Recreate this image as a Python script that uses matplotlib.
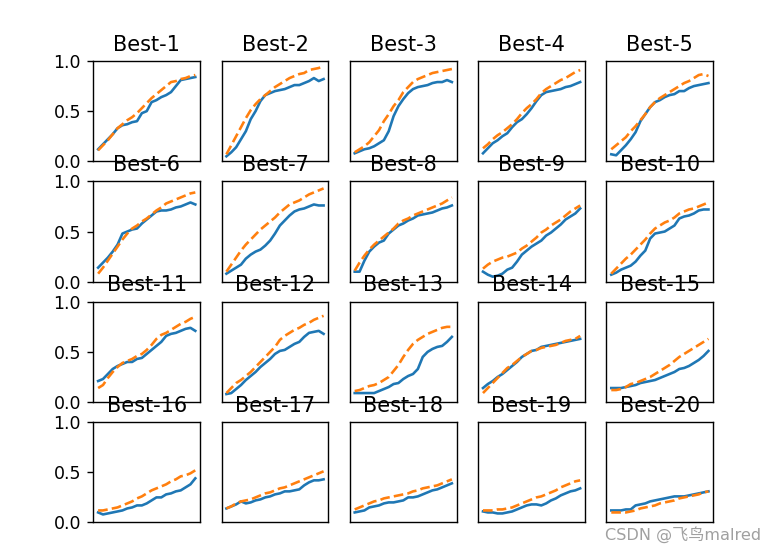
import numpy as np
import matplotlib
matplotlib.use("Agg")
import matplotlib.pyplot as plt

titles = [f"Best-{i}" for i in range(1, 21)]

blue = [
    [.12, .17, .22, .27, .33, .36, .37, .39, .40, .48, .50, .59, .61, .64, .66, .69, .75, .81, .82, .83, .84],
    [.05, .09, .14, .22, .30, .42, .50, .60, .66, .68, .70, .71, .72, .74, .76, .76, .78, .80, .83, .80, .82],
    [.08, .10, .12, .13, .15, .18, .21, .30, .45, .55, .62, .68, .72, .74, .75, .76, .78, .79, .79, .81, .79],
    [.08, .13, .18, .21, .25, .28, .34, .39, .42, .47, .53, .60, .66, .69, .70, .71, .72, .74, .75, .77, .79],
    [.07, .06, .11, .16, .22, .29, .40, .47, .54, .59, .61, .64, .66, .67, .70, .70, .73, .75, .76, .77, .78],
    [.14, .19, .24, .30, .37, .48, .50, .52, .53, .58, .62, .66, .70, .71, .71, .72, .74, .75, .77, .79, .77],
    [.08, .11, .14, .17, .23, .27, .30, .32, .36, .41, .48, .56, .61, .66, .70, .72, .73, .75, .77, .76, .76],
    [.10, .10, .21, .30, .35, .39, .41, .48, .52, .56, .58, .61, .63, .66, .67, .68, .69, .71, .73, .74, .76],
    [.10, .07, .05, .06, .08, .12, .14, .20, .27, .31, .35, .38, .41, .46, .49, .53, .57, .62, .65, .68, .73],
    [.07, .09, .12, .14, .16, .20, .26, .31, .43, .48, .49, .50, .53, .56, .63, .65, .66, .68, .71, .72, .72],
    [.21, .23, .28, .33, .36, .38, .40, .40, .43, .44, .48, .52, .56, .60, .66, .68, .69, .71, .73, .74, .71],
    [.08, .09, .13, .17, .22, .26, .30, .35, .39, .43, .48, .51, .52, .55, .58, .60, .65, .69, .70, .71, .68],
    [.09, .09, .09, .09, .09, .11, .13, .15, .18, .19, .23, .26, .28, .33, .45, .50, .53, .55, .56, .60, .65],
    [.14, .18, .21, .25, .28, .32, .36, .40, .45, .48, .51, .52, .55, .56, .57, .58, .59, .60, .61, .62, .63],
    [.14, .14, .14, .15, .16, .17, .19, .20, .21, .22, .24, .26, .28, .30, .33, .34, .36, .39, .42, .46, .51],
    [.10, .08, .09, .10, .11, .12, .14, .15, .17, .17, .19, .22, .25, .25, .28, .29, .31, .32, .35, .38, .44],
    [.14, .16, .18, .21, .19, .20, .22, .23, .25, .26, .28, .29, .31, .31, .32, .33, .37, .40, .42, .42, .43],
    [.10, .11, .12, .15, .16, .17, .19, .20, .20, .21, .22, .25, .25, .26, .28, .30, .32, .33, .35, .37, .39],
    [.11, .10, .10, .09, .09, .10, .11, .13, .15, .17, .18, .18, .17, .19, .22, .24, .27, .29, .31, .32, .34],
    [.12, .12, .12, .13, .13, .17, .18, .19, .21, .22, .23, .24, .25, .26, .26, .26, .27, .28, .29, .30, .31],
]

orange = [
    [.11, .16, .21, .27, .33, .37, .41, .44, .48, .53, .58, .63, .67, .71, .75, .79, .80, .82, .83, .85, .86],
    [.07, .16, .25, .34, .43, .51, .57, .62, .66, .70, .74, .77, .80, .83, .85, .87, .88, .91, .92, .93, .95],
    [.09, .12, .15, .19, .25, .31, .40, .47, .55, .61, .69, .74, .79, .82, .84, .86, .88, .89, .90, .91, .92],
    [.13, .17, .22, .26, .29, .33, .37, .42, .48, .53, .57, .62, .68, .72, .75, .78, .81, .83, .86, .89, .91],
    [.12, .16, .20, .24, .30, .35, .41, .47, .54, .59, .63, .66, .69, .72, .75, .78, .80, .83, .86, .87, .85],
    [.08, .14, .21, .28, .35, .42, .48, .53, .56, .60, .63, .67, .71, .74, .78, .80, .82, .84, .86, .88, .89],
    [.10, .17, .24, .31, .37, .42, .47, .52, .56, .60, .64, .69, .73, .77, .79, .81, .84, .87, .89, .91, .93],
    [.11, .19, .26, .32, .37, .41, .45, .49, .53, .58, .61, .63, .66, .68, .70, .72, .74, .76, .78, .81, .84],
    [.13, .17, .20, .22, .24, .25, .27, .29, .33, .36, .40, .44, .49, .52, .56, .59, .62, .66, .70, .73, .76],
    [.08, .13, .18, .23, .27, .32, .37, .42, .48, .53, .56, .59, .61, .64, .68, .70, .72, .73, .75, .77, .79],
    [.14, .17, .24, .30, .35, .39, .41, .43, .46, .48, .52, .57, .63, .67, .69, .72, .75, .78, .80, .83, .85],
    [.09, .14, .19, .22, .26, .30, .35, .40, .45, .50, .55, .62, .66, .69, .72, .74, .77, .79, .82, .84, .86],
    [.11, .12, .14, .16, .17, .19, .22, .25, .31, .37, .45, .52, .58, .62, .65, .68, .70, .72, .74, .75, .75],
    [.09, .14, .19, .24, .29, .34, .37, .41, .45, .48, .51, .52, .54, .55, .56, .57, .59, .61, .62, .63, .66],
    [.12, .12, .13, .15, .18, .19, .21, .23, .25, .28, .31, .34, .37, .41, .45, .48, .51, .54, .57, .60, .63],
    [.12, .12, .13, .14, .15, .17, .19, .21, .24, .26, .29, .32, .34, .36, .38, .41, .43, .46, .47, .49, .52],
    [.14, .16, .19, .21, .22, .23, .25, .27, .29, .30, .32, .34, .35, .37, .39, .41, .43, .45, .47, .49, .51],
    [.13, .15, .17, .19, .21, .22, .24, .25, .26, .27, .28, .29, .31, .32, .34, .35, .36, .37, .39, .41, .43],
    [.12, .12, .12, .13, .13, .14, .15, .17, .19, .21, .23, .25, .26, .28, .30, .32, .35, .37, .39, .41, .42],
    [.10, .10, .10, .10, .11, .12, .14, .15, .16, .17, .19, .20, .21, .22, .24, .25, .26, .27, .28, .30, .31],
]

ytick_values = [0.0, 0.5, 1.0]
ytick_labels = ["0.0", "0.5", "1.0"]

DPI = 125
fig, axes = plt.subplots(4, 5, figsize=(774 / DPI, 553 / DPI), dpi=DPI)
fig.subplots_adjust(left=0.1205, right=0.9216, top=0.8897, bottom=0.0552,
                    wspace=0.2, hspace=0.2)

for i, ax in enumerate(axes.flat):
    b = blue[i]
    o = orange[i]
    ax.plot(np.arange(len(b)), b, color="#1f77b4", linewidth=1.5)
    ax.plot(np.arange(len(o)), o, color="#ff7f0e", linewidth=1.5, linestyle="--")
    ax.set_title(titles[i], fontsize=12)
    ax.set_ylim(0, 1)
    ax.set_xticks([])
    if i % 5 == 0:
        ax.set_yticks(ytick_values)
        ax.set_yticklabels(ytick_labels)
    else:
        ax.set_yticks([])

fig.text(605 / 774, 1 - 535 / 553, "CSDN @飞鸟malred", color="#a0a0a0",
         fontsize=9.3, va="center", ha="left",
         family=["DejaVu Sans", "Noto Sans CJK SC"])

fig.savefig("out.png", dpi=DPI)
